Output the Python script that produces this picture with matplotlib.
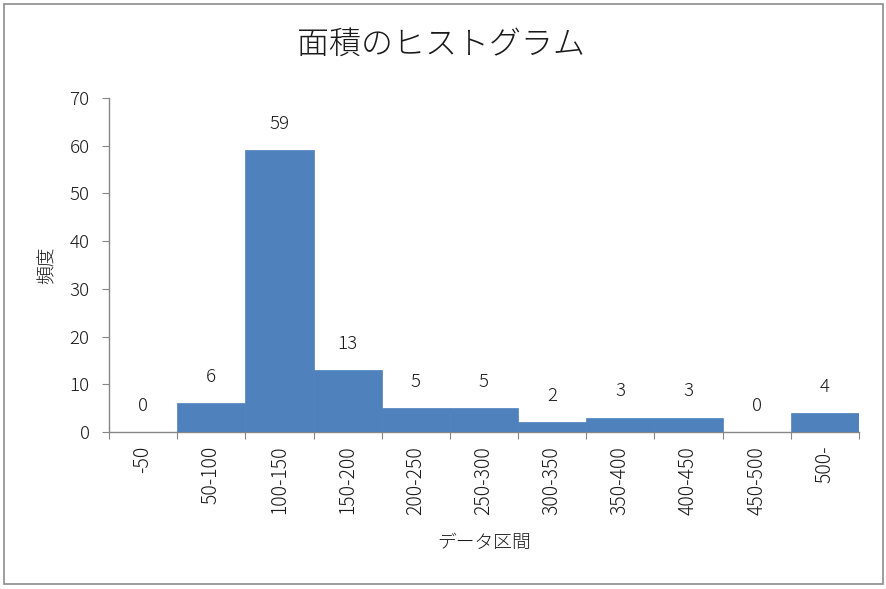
import matplotlib
matplotlib.use("Agg")
import matplotlib.pyplot as plt
from matplotlib.patches import Rectangle
import numpy as np

plt.rcParams["font.family"] = ["Noto Sans CJK JP", "DejaVu Sans"]
plt.rcParams["font.weight"] = "light"
plt.rcParams["axes.labelweight"] = "light"

BAR = "#4F81BD"
AXIS = "#868686"
TEXT = "#1a1a1a"

bins = ["-50", "50-100", "100-150", "150-200", "200-250", "250-300",
        "300-350", "350-400", "400-450", "450-500", "500-"]
counts = [0, 6, 59, 13, 5, 5, 2, 3, 3, 0, 4]

fig = plt.figure(figsize=(8.87, 5.89), dpi=100, facecolor="white")
ax = fig.add_axes([0.1229, 0.2666, 0.8455, 0.567])

x = np.arange(len(bins))
ax.bar(x, counts, width=1.0, color=BAR, edgecolor=BAR, linewidth=0.5,
       zorder=3)

for xi, c in zip(x, counts):
    ax.annotate(f"{c}", (xi, c), xytext=(0, 19), textcoords="offset points",
                ha="center", va="center", fontsize=13.5, color=TEXT)

ax.set_xlim(-0.5, len(bins) - 0.5)
ax.set_ylim(0, 70)
ax.set_yticks(range(0, 71, 10))

# tick marks on bin boundaries, labels under bin centers
ax.set_xticks(np.arange(-0.5, len(bins), 1.0))
ax.set_xticklabels([])
ax.set_xticks(x, minor=True)
ax.set_xticklabels(bins, minor=True, rotation=90, fontsize=14, color=TEXT)
ax.tick_params(axis="x", which="minor", length=0, pad=10)
ax.tick_params(axis="x", which="major", length=5, color=AXIS, direction="out")
ax.tick_params(axis="y", length=5, color=AXIS, labelsize=13.5,
               labelcolor=TEXT, pad=9)

for s in ["top", "right"]:
    ax.spines[s].set_visible(False)
for s in ["left", "bottom"]:
    ax.spines[s].set_color(AXIS)
    ax.spines[s].set_linewidth(1.0)

ax.set_ylabel("頻度", fontsize=13.5, color=TEXT, labelpad=9,
              fontweight="light")
ax.set_xlabel("データ区間", fontsize=13.5, color=TEXT, labelpad=14,
              fontweight="light")

fig.text(0.497, 0.924, "面積のヒストグラム", ha="center", va="center",
         fontsize=23, color=TEXT, fontweight="light")

# chart-area border
fig.patches.append(Rectangle((0.004, 0.008), 0.991, 0.986,
                             transform=fig.transFigure, fill=False,
                             edgecolor="#8c8c8c", linewidth=1.2))

fig.savefig("out.png", dpi=100, facecolor="white")
